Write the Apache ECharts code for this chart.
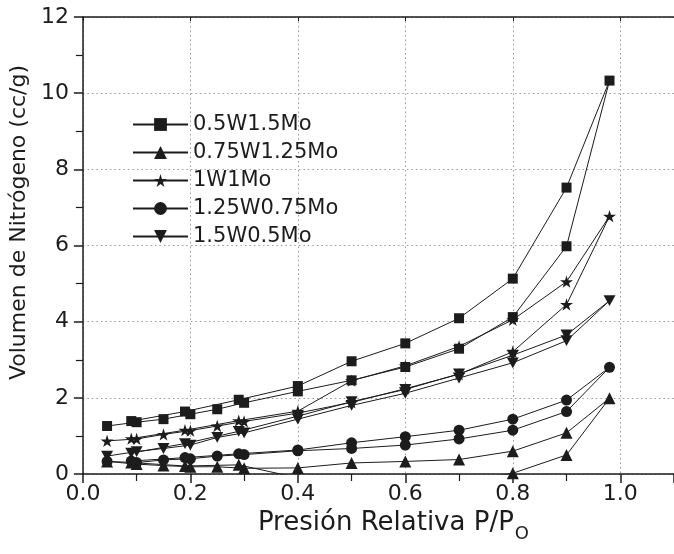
<!DOCTYPE html>
<html>
<head>
<meta charset="utf-8">
<script src="https://cdn.jsdelivr.net/npm/echarts@6/dist/echarts.min.js"></script>
<style>html,body{margin:0;padding:0;background:#fff;}#c{width:674px;height:554px;}</style>
</head>
<body>
<div id="c"></div>
<script>
// Relative pressure (adsorption branch, then desorption branch)
const xAdsorption = [0.045, 0.1, 0.15, 0.2, 0.25, 0.3, 0.4, 0.5, 0.6, 0.7, 0.8, 0.9, 0.98];
const xDesorption = [0.9, 0.8, 0.7, 0.6, 0.5, 0.4, 0.29, 0.19, 0.09];

const seriesNames = ['0.5W1.5Mo', '0.75W1.25Mo', '1W1Mo', '1.25W0.75Mo', '1.5W0.5Mo'];

const adsW05Mo15 = [1.26, 1.36, 1.44, 1.57, 1.70, 1.87, 2.17, 2.46, 2.81, 3.29, 4.12, 5.98, 10.33];
const desW05Mo15 = [7.52, 5.13, 4.09, 3.43, 2.96, 2.31, 1.95, 1.64, 1.39];

const adsW075Mo125 = [0.33, 0.26, 0.22, 0.19, 0.19, 0.15, 0.16, 0.29, 0.33, 0.38, 0.60, 1.08, 1.99];
const desW075Mo125 = [0.50, 0.02, -0.2, -0.2, -0.03, -0.1, 0.24, 0.21, 0.30];

const adsW1Mo1 = [0.87, 0.92, 1.04, 1.14, 1.26, 1.38, 1.60, 1.88, 2.24, 2.62, 3.21, 4.45, 6.77];
const desW1Mo1 = [5.05, 4.05, 3.35, 2.84, 2.45, 1.65, 1.40, 1.15, 0.93];

const adsW125Mo075 = [0.33, 0.30, 0.37, 0.40, 0.47, 0.51, 0.61, 0.67, 0.76, 0.92, 1.15, 1.64, 2.80];
const desW125Mo075 = [1.94, 1.44, 1.15, 0.98, 0.82, 0.63, 0.53, 0.43, 0.34];

const adsW15Mo05 = [0.47, 0.59, 0.67, 0.76, 0.96, 1.08, 1.44, 1.80, 2.12, 2.52, 2.92, 3.50, 4.55];
const desW15Mo05 = [3.65, 3.12, 2.63, 2.22, 1.90, 1.52, 1.12, 0.80, 0.55];

const xTickLabels = ['0.0', '0.2', '0.4', '0.6', '0.8', '1.0'];
const yTickLabels = ['0', '2', '4', '6', '8', '10', '12'];

function loop(ads, des) {
  const pts = [];
  xAdsorption.forEach((x, i) => pts.push([x, ads[i]]));
  xDesorption.forEach((x, i) => pts.push([x, des[i]]));
  return pts;
}

const symbols = [
  {symbol: 'rect', size: 10},
  {symbol: 'triangle', size: 12},
  {symbol: 'path://M50,0 L61,35 L98,35 L68,57 L79,91 L50,70 L21,91 L32,57 L2,35 L39,35 Z', size: 13},
  {symbol: 'circle', size: 11},
  {symbol: 'path://M0,0 L100,0 L50,90 Z', size: 12}
];
const datasets = [
  loop(adsW05Mo15, desW05Mo15),
  loop(adsW075Mo125, desW075Mo125),
  loop(adsW1Mo1, desW1Mo1),
  loop(adsW125Mo075, desW125Mo075),
  loop(adsW15Mo05, desW15Mo05)
];

const FONT = 'DejaVu Sans';
const INK = '#1c1c1c';

const chart = echarts.init(document.getElementById('c'), null, {renderer: 'canvas'});
chart.setOption({
  animation: false,
  backgroundColor: '#fff',
  grid: {left: 77, top: 17, right: -13, bottom: 80, containLabel: false},
  legend: {
    orient: 'vertical', left: 132, top: 114, padding: 0,
    itemWidth: 55, itemHeight: 16, itemGap: 7,
    textStyle: {fontFamily: FONT, fontSize: 21, color: INK},
    data: seriesNames
  },
  xAxis: [{
    type: 'value', min: 0, max: 1.1, interval: 0.2, position: 'bottom',
    name: '{m|Presión Relativa P/P}{s|O}', nameLocation: 'middle', nameGap: 26,
    nameTextStyle: {
      padding: [0, 0, 0, 30],
      rich: {
        m: {fontFamily: FONT, fontSize: 26, color: INK},
        s: {fontFamily: FONT, fontSize: 18, color: INK, padding: [22, 0, 0, 1]}
      }
    },
    axisLine: {show: true, lineStyle: {color: INK, width: 1.5}},
    axisTick: {show: true, inside: false, length: 9, lineStyle: {color: INK, width: 1.5}},
    minorTick: {show: true, splitNumber: 2, length: 7, lineStyle: {color: INK, width: 1.2}},
    axisLabel: {
      fontFamily: FONT, fontSize: 22, color: INK, margin: 9, showMaxLabel: false,
      formatter: v => xTickLabels[Math.round(v / 0.2)] || ''
    },
    splitLine: {show: true, lineStyle: {color: '#999', width: 1, type: [1.5, 3]}}
  }, {
    type: 'value', min: 0, max: 1.1, interval: 0.2, position: 'top',
    axisLine: {show: true, lineStyle: {color: INK, width: 1.5}},
    axisTick: {show: true, inside: true, length: 4, lineStyle: {color: INK, width: 1}},
    minorTick: {show: false},
    axisLabel: {show: false},
    splitLine: {show: false}
  }],
  yAxis: {
    type: 'value', min: 0, max: 12, interval: 2,
    name: 'Volumen de Nitrógeno (cc/g)', nameLocation: 'middle', nameGap: 44,
    nameTextStyle: {fontFamily: FONT, fontSize: 22, color: INK, padding: [0, 0, 0, 46]},
    axisLine: {show: true, lineStyle: {color: INK, width: 1.5}},
    axisTick: {show: true, inside: false, length: 9, lineStyle: {color: INK, width: 1.5}},
    minorTick: {show: true, splitNumber: 2, length: 7, lineStyle: {color: INK, width: 1.2}},
    axisLabel: {
      fontFamily: FONT, fontSize: 22, color: INK, margin: 14,
      formatter: v => yTickLabels[Math.round(v / 2)] || ''
    },
    splitLine: {show: true, lineStyle: {color: '#999', width: 1, type: [1.5, 3]}}
  },
  series: seriesNames.map((name, i) => ({
    name: name,
    type: 'line',
    xAxisIndex: 0,
    data: datasets[i],
    symbol: symbols[i].symbol,
    symbolSize: symbols[i].size,
    symbolKeepAspect: true,
    showAllSymbol: true,
    clip: true,
    itemStyle: {color: INK, borderColor: INK, borderWidth: 0},
    lineStyle: {color: INK, width: 1},
    z: 5 + i
  }))
});
</script>
</body>
</html>
